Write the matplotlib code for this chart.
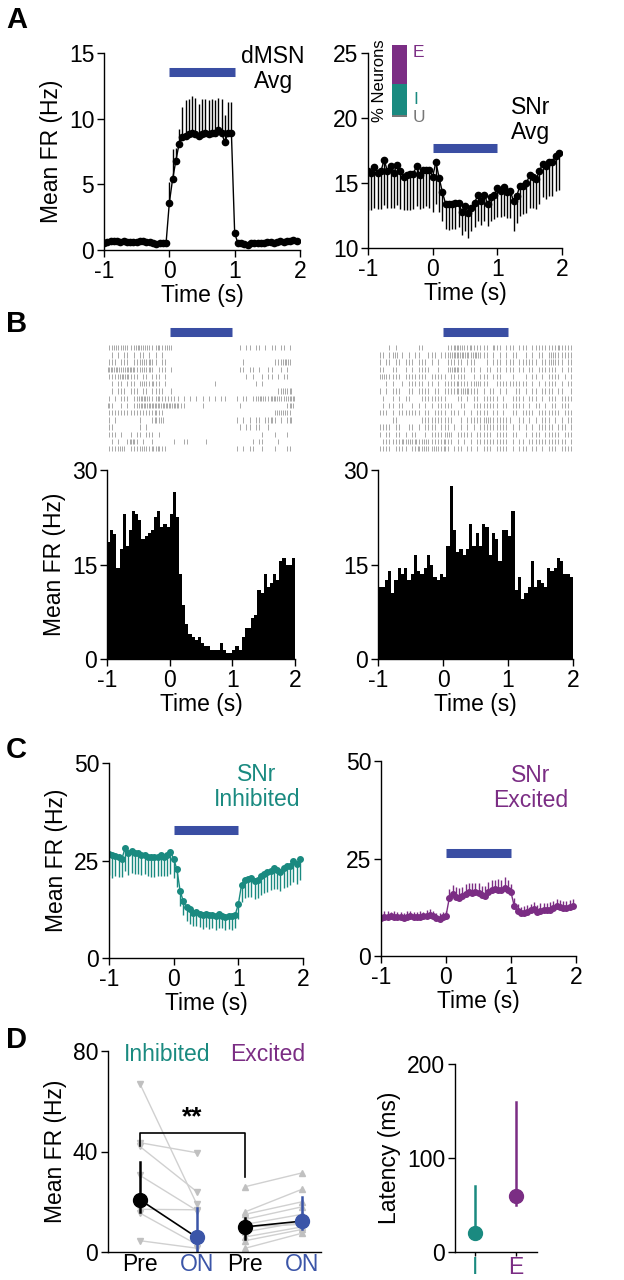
import numpy as np
import matplotlib
matplotlib.use("Agg")
import matplotlib.pyplot as plt

plt.rcParams['font.family'] = ['Liberation Sans', 'DejaVu Sans']
plt.rcParams['font.size'] = 16.5
plt.rcParams['axes.linewidth'] = 1.0

W, H = 624, 1280
TEAL = '#1a8a80'
PURPLE = '#7b2d84'
STIM = '#3a4ea3'
ONBLUE = '#3b55a8'

# time bins (50 ms)
t = np.arange(-1, 2, 0.05)

# A left: dMSN average
dmsn_mean = [0.50, 0.60, 0.65, 0.70, 0.65, 0.62, 0.66, 0.60, 0.64, 0.60, 0.62, 0.66, 0.70, 0.64, 0.60, 0.50, 0.45, 0.50, 0.55, 0.52,
             3.60, 5.40, 6.80, 8.10, 8.60, 8.70, 8.80, 8.90, 8.80, 8.70, 8.80, 8.90, 8.80, 8.90, 8.90, 9.10, 8.90, 8.20, 8.90, 8.90,
             1.30, 0.50, 0.50, 0.45, 0.40, 0.50, 0.55, 0.50, 0.55, 0.50, 0.58, 0.60, 0.55, 0.60, 0.65, 0.60, 0.66, 0.70, 0.75, 0.65]
dmsn_sem = [0.10, 0.12, 0.10, 0.11, 0.10, 0.12, 0.10, 0.11, 0.10, 0.12, 0.10, 0.11, 0.10, 0.12, 0.10, 0.11, 0.10, 0.12, 0.10, 0.11,
            1.60, 2.30, 1.00, 1.10, 2.30, 2.70, 2.70, 2.80, 2.80, 2.40, 2.70, 2.60, 2.60, 2.60, 2.50, 2.50, 2.60, 2.10, 2.40, 2.40,
            0.20, 0.10, 0.12, 0.10, 0.11, 0.10, 0.12, 0.10, 0.11, 0.10, 0.12, 0.10, 0.11, 0.10, 0.12, 0.10, 0.11, 0.10, 0.12, 0.10]

# A right: SNr average
snr_mean = [15.9, 15.8, 16.2, 15.8, 15.9, 16.8, 15.9, 16.3, 15.8, 16.4, 15.9, 15.5, 15.6, 15.7, 15.7, 16.3, 15.6, 16.0, 16.0, 16.0,
            15.5, 16.6, 15.4, 14.3, 13.4, 13.4, 13.4, 13.5, 13.5, 12.8, 13.2, 12.7, 13.1, 13.5, 14.1, 13.6, 14.1, 13.4, 13.9, 14.1,
            14.6, 14.4, 14.7, 14.3, 14.4, 13.6, 14.0, 14.8, 14.8, 15.0, 15.6, 15.5, 15.3, 15.9, 16.5, 16.3, 16.6, 16.6, 17.1, 17.3]
snr_sem = [3.0, 2.9, 3.1, 2.8, 2.9, 3.5, 2.8, 3.2, 2.7, 3.1, 2.9, 2.6, 2.7, 2.8, 2.7, 3.1, 2.6, 2.9, 2.8, 2.9,
           2.7, 3.2, 2.6, 2.2, 1.9, 2.0, 1.9, 2.0, 1.9, 1.8, 1.9, 1.9, 1.8, 1.9, 2.0, 1.8, 2.0, 1.7, 1.8, 1.9,
           2.2, 2.0, 2.2, 2.0, 2.1, 2.3, 2.1, 2.3, 2.2, 2.3, 2.5, 2.4, 2.3, 2.5, 2.6, 2.5, 2.6, 2.6, 2.7, 2.8]

# inset: % neurons
pct_labels = ['U', 'I', 'E']
pct_values = [3, 43, 54]
pct_colors = ['#777777', TEAL, PURPLE]

# B: example PSTHs
psth_inh = [18.5, 20.5, 19.8, 14.5, 17.5, 23.0, 18.0, 20.5, 23.5, 23.0, 22.0, 19.0, 19.5, 20.0, 20.5, 22.5, 23.5, 21.0, 21.5, 21.0,
            23.0, 26.5, 22.5, 13.5, 8.5, 5.5, 4.0, 3.5, 3.0, 3.5, 2.5, 2.0, 2.0, 1.5, 1.5, 1.5, 2.5, 1.5, 1.0, 1.0,
            1.5, 2.0, 1.5, 3.5, 5.0, 5.0, 6.5, 7.0, 11.0, 10.5, 13.5, 11.5, 12.0, 13.5, 12.5, 15.5, 16.0, 15.0, 15.0, 16.0]
psth_exc = [11.5, 11.5, 12.5, 14.0, 10.5, 12.5, 14.5, 13.5, 14.5, 12.5, 13.5, 16.5, 14.0, 13.5, 14.5, 16.5, 15.0, 13.0, 12.5, 13.5,
            13.0, 18.0, 27.5, 20.5, 17.0, 17.5, 16.5, 17.5, 21.5, 18.0, 20.0, 18.0, 21.5, 21.0, 16.5, 20.0, 19.0, 15.5, 20.5, 20.5,
            19.5, 23.5, 11.0, 13.0, 9.5, 10.5, 11.5, 15.5, 11.5, 12.5, 12.0, 11.5, 14.5, 14.0, 14.5, 16.0, 15.5, 13.5, 13.5, 13.0]

# rasters: spike counts per 50 ms bin, one string per trial
raster_inh = [
    "11211211122121112112 10000000000000000000 00101101101011011010",
    "01010110101101010100 00000000000000000000 00000000000000000000",
    "11101110111212110110 00000000000000000000 00010000000001112210",
    "22221222211212101110 10000000000000000000 00110110100110010100",
    "11112221110110111010 00000000000000000000 00001010010110101100",
    "01011011101211211010 00000000000000100000 00000001010000000000",
    "01011101110110111100 10000000000000000000 00000000000000112120",
    "10101110112221112111 11101010101010101100 01011011221122211222",
    "21001010112222222222 22211000001000000000 00100000000000000121",
    "11111111111111121100 00000000000000000000 00000000000001212110",
    "10100000001000121200 00000000000000000000 01010101101121010120",
    "11000000001010000000 00000000000000000000 00101101100100000000",
    "11101001011011101000 00000000000000000000 00000000010001000100",
    "01010012210100100000 01001100000100000000 00000010110000100000",
    "11112101111211212110 00000000000000000000 01010110010001000110",
]
raster_exc = [
    "00010100000011000000 01122211211111021101 11011101111111121111",
    "11011201010110011101 11222222122111010101 01100101011012111111",
    "10110110111011101010 01111101110001011101 11011111101112111011",
    "11001100101011110010 01222110110101101101 11011011011111101011",
    "12111110111111101111 10111110010111011100 01000101101011110101",
    "00101001011111011010 11112111112111001111 11111101010111101011",
    "10101110011011110110 11112122111010110101 00110101101111011001",
    "01001010110001111111 10001101011011111010 01111011101011101111",
    "01011011001010101011 11100110011111111011 01111010110101101110",
    "11101011111110110111 10111010101111011010 01101111011111110111",
    "00001100000001111111 11100101111112111111 10011010101110101011",
    "11110110011010111101 11010101010111111111 01010101011111011101",
    "10110110101100101111 12101111101111101111 01100101110111110111",
    "01111112121211211111 21101010101111111111 01011011111111111101",
    "11110111101121211211 21011101101011101111 01011101101011101111",
]

# C: inhibited / excited SNr
inh_mean = [26.7, 26.4, 26.2, 25.8, 25.5, 28.2, 26.8, 27.5, 27.0, 27.0, 26.5, 26.5, 25.8, 25.8, 25.9, 26.0, 26.3, 26.0, 26.5, 27.2,
            25.5, 22.7, 17.2, 14.5, 13.0, 12.5, 11.5, 11.8, 11.2, 11.0, 11.3, 11.0, 11.0, 10.8, 11.2, 10.8, 10.5, 10.7, 10.8, 11.0,
            13.8, 18.8, 20.1, 20.2, 20.6, 19.7, 20.0, 21.0, 21.5, 22.0, 22.3, 23.0, 22.6, 22.0, 23.0, 23.5, 23.7, 24.8, 24.0, 25.3]
inh_sem = [5.5, 5.8, 5.2, 5.0, 4.8, 6.0, 5.5, 5.8, 5.4, 5.5, 5.2, 5.0, 4.8, 5.0, 5.2, 4.9, 5.3, 5.0, 5.4, 5.6,
           5.0, 4.5, 3.8, 3.6, 3.5, 3.8, 3.4, 3.6, 3.3, 3.5, 3.4, 3.6, 3.3, 3.5, 3.4, 3.2, 3.4, 3.3, 3.5, 3.4,
           3.8, 4.5, 4.8, 4.6, 4.9, 4.5, 4.7, 4.8, 4.9, 5.0, 4.8, 5.2, 5.0, 4.8, 5.1, 5.2, 5.0, 5.3, 5.1, 5.4]
exc_mean = [9.7, 10.0, 10.1, 10.2, 10.0, 10.1, 9.9, 9.8, 10.1, 10.3, 10.0, 9.9, 10.0, 10.2, 10.3, 10.5, 10.2, 9.8, 9.6, 10.0,
            10.3, 14.8, 15.8, 15.2, 15.0, 15.5, 16.0, 16.3, 16.1, 16.5, 16.2, 15.7, 15.5, 16.3, 16.8, 17.1, 17.0, 16.9, 17.4, 17.0,
            16.3, 12.8, 11.5, 11.0, 11.0, 11.2, 11.8, 12.0, 11.3, 11.6, 11.9, 11.7, 11.8, 12.3, 12.8, 12.6, 12.2, 12.4, 12.6, 12.8]
exc_sem = [1.3, 1.5, 1.4, 1.2, 1.5, 1.3, 1.4, 1.2, 1.5, 1.3, 1.4, 1.3, 1.5, 1.2, 1.4, 1.6, 1.3, 1.2, 1.4, 1.3,
           1.2, 2.5, 2.3, 2.6, 2.4, 2.2, 2.5, 2.4, 2.6, 2.3, 2.4, 2.2, 2.5, 2.6, 2.8, 2.4, 2.7, 2.5, 2.8, 2.6,
           2.2, 2.0, 1.8, 1.6, 1.7, 1.9, 1.6, 1.8, 1.7, 1.9, 1.6, 1.8, 2.0, 1.8, 1.9, 1.7, 1.9, 1.6, 1.8, 1.7]

# D left: paired firing rates
inh_pre = [67, 43.5, 42, 30.5, 17, 15.5, 4.5]
inh_on = [19, 39.5, 24, 16.5, 16.8, 3, 1.5]
exc_pre = [26, 16, 15, 13, 11, 8, 6, 4.5, 1.5, 10]
exc_on = [31.5, 25, 20, 18, 15, 12, 10, 9, 7.5, 11]
grp_labels = ['Pre', 'ON', 'Pre', 'ON']
grp_center = [20.8, 5.8, 10.0, 12.3]
grp_low = [16, 0.5, 5, 9]
grp_high = [36, 17.5, 13.5, 21.7]

# D right: latency
lat_labels = ['I', 'E']
lat_center = [20, 60]
lat_low = [20, 50]
lat_high = [70, 160]


def box(x0, y0, x1, y1):
    return [x0 / W, 1 - y1 / H, (x1 - x0) / W, (y1 - y0) / H]


def style(ax):
    for s in ['top', 'right']:
        ax.spines[s].set_visible(False)
    ax.tick_params(direction='out', length=5, width=1, pad=2)


def time_axis(ax):
    ax.set_xlim(-1, 2)
    ax.set_xticks([-1, 0, 1, 2])
    ax.set_xticklabels(['-1', '0', '1', '2'])
    ax.set_xlabel('Time (s)', labelpad=1)
    ax.spines['bottom'].set_bounds(-1, 2)


def stim_bar(ax, y):
    ax.plot([0, 1], [y, y], color=STIM, lw=6.5, solid_capstyle='butt', clip_on=False)


fig = plt.figure(figsize=(W / 100, H / 100), dpi=100)

# ---- A left
ax = fig.add_axes(box(104, 53, 300, 250))
style(ax)
ax.errorbar(t, dmsn_mean, yerr=[np.zeros(len(t)), dmsn_sem], fmt='-o', color='black',
            ms=4.5, lw=1, elinewidth=1, capsize=0)
ax.set_ylim(0, 15)
ax.set_yticks([0, 5, 10, 15])
time_axis(ax)
ax.set_ylabel('Mean FR (Hz)')
stim_bar(ax, 13.55)
ax.text(1.59, 13.8, 'dMSN\nAvg', ha='center', va='center', linespacing=1.1)

# ---- A right
ax = fig.add_axes(box(368, 53, 562, 248))
style(ax)
ax.errorbar(t, snr_mean, yerr=[snr_sem, np.zeros(len(t))], fmt='-o', color='black',
            ms=4.5, lw=1, elinewidth=1, capsize=0)
ax.set_ylim(10, 25)
ax.set_yticks([10, 15, 20, 25])
time_axis(ax)
stim_bar(ax, 17.7)
ax.text(1.52, 19.85, 'SNr\nAvg', ha='center', va='center', linespacing=1.1)

ins = fig.add_axes(box(392, 45, 407, 117))
bottom = 0
for lab, v, c in zip(pct_labels, pct_values, pct_colors):
    ins.bar(0, v, bottom=bottom, width=1, color=c)
    ins.text(0.9, bottom + v / 2 if lab != 'U' else bottom, lab, color=c, fontsize=12.5,
             ha='left', va='center' if lab != 'E' else 'top')
    bottom += v
ins.texts[-1].set_y(100)
ins.set_xlim(-0.5, 0.5)
ins.set_ylim(0, 100)
ins.axis('off')
ins.text(-1.3, 50, '% Neurons', rotation=90, ha='center', va='center', fontsize=12)

# ---- B rasters + PSTHs
for x0, x1, rows, psth, ylab in [(107, 295, raster_inh, psth_inh, True),
                                 (378, 573, raster_exc, psth_exc, False)]:
    ax = fig.add_axes(box(x0, 326, x1, 456))
    spikes = []
    for r in rows:
        counts = [int(ch) for ch in r.replace(' ', '')]
        st = []
        for i, c in enumerate(counts):
            for k in range(c):
                st.append(t[i] + 0.05 * (k + 0.5) / c)
        spikes.append(st)
    ax.eventplot(spikes, lineoffsets=np.arange(len(rows)), linelengths=0.75,
                 linewidths=0.6, colors='#9a9a9a')
    ax.set_xlim(-1, 2)
    ax.set_ylim(15, -3)
    ax.plot([0, 1], [-2.2, -2.2], color=STIM, lw=6.5, solid_capstyle='butt')
    ax.axis('off')

    ax = fig.add_axes(box(x0, 470, x1, 659))
    style(ax)
    ax.bar(t, psth, width=0.05, align='edge', color='black', linewidth=0)
    ax.set_ylim(0, 30)
    ax.set_yticks([0, 15, 30])
    time_axis(ax)
    if ylab:
        ax.set_ylabel('Mean FR (Hz)')

# ---- C
ax = fig.add_axes(box(109, 763, 303, 958))
style(ax)
ax.errorbar(t, inh_mean, yerr=[inh_sem, np.zeros(len(t))], fmt='-o', color=TEAL,
            ms=4, lw=1, elinewidth=1, capsize=0)
ax.set_ylim(0, 50)
ax.set_yticks([0, 25, 50])
time_axis(ax)
ax.set_ylabel('Mean FR (Hz)')
stim_bar(ax, 32.8)
ax.text(1.29, 43.8, 'SNr\nInhibited', ha='center', va='center', color=TEAL, linespacing=1.1)

ax = fig.add_axes(box(381, 761, 576, 956))
style(ax)
ax.errorbar(t, exc_mean, yerr=[np.zeros(len(t)), exc_sem], fmt='-o', color=PURPLE,
            ms=4, lw=1, elinewidth=1, capsize=0)
ax.set_ylim(0, 50)
ax.set_yticks([0, 25, 50])
time_axis(ax)
stim_bar(ax, 26.4)
ax.text(1.31, 43.1, 'SNr\nExcited', ha='center', va='center', color=PURPLE, linespacing=1.1)

# ---- D left
xg = [1, 2, 2.85, 3.85]
ax = fig.add_axes(box(108, 1051, 321, 1252))
style(ax)
for a, b in zip(inh_pre, inh_on):
    ax.plot(xg[:2], [a, b], color='#d0d0d0', lw=1, marker='v', ms=4, mfc='#c0c0c0', mec='#c0c0c0')
for a, b in zip(exc_pre, exc_on):
    ax.plot(xg[2:], [a, b], color='#d0d0d0', lw=1, marker='^', ms=4, mfc='#c0c0c0', mec='#c0c0c0')
gcol = ['black', ONBLUE, 'black', ONBLUE]
ax.plot(xg[:2], grp_center[:2], color='black', lw=1.2)
ax.plot(xg[2:], grp_center[2:], color='black', lw=1.2)
for x, c, lo, hi, col in zip(xg, grp_center, grp_low, grp_high, gcol):
    ax.plot([x, x], [lo, hi], color=col, lw=1.8)
    ax.plot(x, c, 'o', color=col, ms=10)
ax.plot([xg[0], xg[0], xg[2], xg[2]], [42, 47.5, 47.5, 30], color='black', lw=1.2)
ax.text((xg[0] + xg[2]) / 2, 49, '**', ha='center', va='bottom', fontsize=19, fontweight='bold')
ax.text(1.47, 78.5, 'Inhibited', color=TEAL, ha='center', va='center')
ax.text(3.25, 78.5, 'Excited', color=PURPLE, ha='center', va='center')
ax.set_xlim(0.44, 4.18)
ax.set_ylim(0, 80)
ax.set_yticks([0, 40, 80])
ax.spines['left'].set_bounds(0, 80)
ax.set_xticks(xg)
ax.set_xticklabels(grp_labels)
ax.tick_params(axis='x', length=0, pad=1)
for lab, col in zip(ax.get_xticklabels(), gcol):
    lab.set_color(col)
ax.set_ylabel('Mean FR (Hz)')

# ---- D right
ax = fig.add_axes(box(455, 1064, 537, 1252))
style(ax)
lcol = [TEAL, PURPLE]
for x, c, lo, hi, col in zip([1, 2], lat_center, lat_low, lat_high, lcol):
    ax.plot([x, x], [lo, hi], color=col, lw=1.8)
    ax.plot(x, c, 'o', color=col, ms=10)
ax.set_xlim(0.51, 2.51)
ax.set_ylim(0, 200)
ax.set_yticks([0, 100, 200])
ax.set_xticks([1, 2])
ax.set_xticklabels(lat_labels)
ax.tick_params(axis='x', length=3, pad=0)
for lab, col in zip(ax.get_xticklabels(), lcol):
    lab.set_color(col)
ax.set_ylabel('Latency (ms)')

# panel letters
for lab, y in [('A', 6), ('B', 310), ('C', 736), ('D', 1026)]:
    fig.text(6 / W, 1 - y / H, lab, fontsize=21, fontweight='bold', va='top', ha='left')

fig.savefig('out.png', dpi=100)
